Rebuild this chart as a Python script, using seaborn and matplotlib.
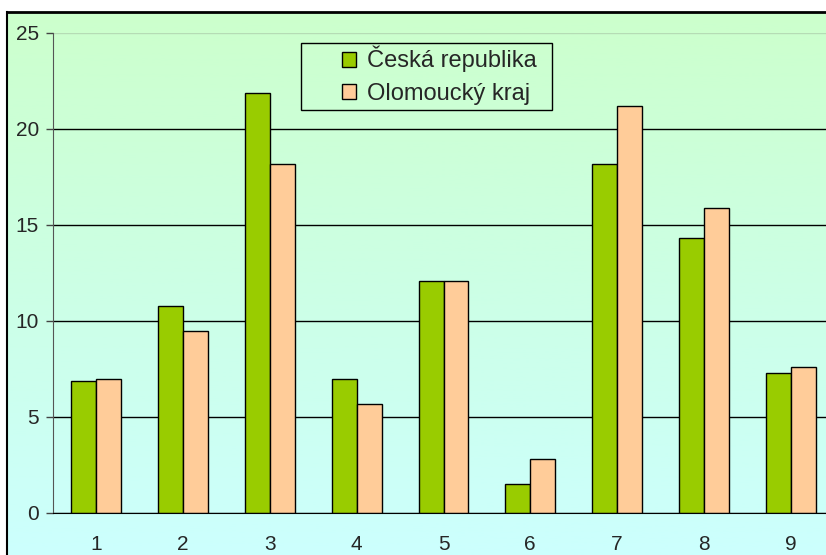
import numpy as np
import pandas as pd
import matplotlib
matplotlib.use("Agg")
import matplotlib.pyplot as plt
from matplotlib.patches import Rectangle
import seaborn as sns

categories = ["1", "2", "3", "4", "5", "6", "7", "8", "9"]
series_names = ["Česká republika", "Olomoucký kraj"]
cr_values = [6.9, 10.8, 21.9, 7.0, 12.1, 1.5, 18.2, 14.3, 7.3]
olk_values = [7.0, 9.5, 18.2, 5.7, 12.1, 2.8, 21.2, 15.9, 7.6]
y_ticks = [0, 5, 10, 15, 20, 25]

df = pd.DataFrame({
    "kategorie": categories * 2,
    "hodnota": cr_values + olk_values,
    "oblast": [series_names[0]] * len(categories) + [series_names[1]] * len(categories),
})

sns.set_style("white")
plt.rcParams["font.family"] = ["Liberation Sans", "DejaVu Sans"]

W, H = 826, 555
fig = plt.figure(figsize=(W / 100, H / 100), dpi=100)
fig.patch.set_facecolor("white")

# gradient background of the chart area (light green -> light cyan)
bg = fig.add_axes([7 / W, -0.02, 1.0, (H - 12) / H + 0.02])
grad = np.linspace(0, 1, 256).reshape(-1, 1)
top = np.array([204, 255, 204]) / 255
bottom = np.array([204, 255, 255]) / 255
img = top[None, None, :] * (1 - grad[:, :, None]) + bottom[None, None, :] * grad[:, :, None]
bg.imshow(img, aspect="auto", extent=[0, 1, 0, 1])
bg.set_xticks([])
bg.set_yticks([])
for side in ["right", "bottom"]:
    bg.spines[side].set_visible(False)
bg.spines["left"].set_color("black")
bg.spines["left"].set_linewidth(1.5)
bg.spines["top"].set_color("black")
bg.spines["top"].set_linewidth(2)

ax = fig.add_axes([53 / W, (H - 513) / H, (834 - 53) / W, (513 - 33) / H])
ax.set_facecolor("none")

sns.barplot(data=df, x="kategorie", y="hodnota", hue="oblast",
            palette=["#99CC00", "#FFCC99"], width=0.575, gap=0,
            edgecolor="black", linewidth=1, saturation=1, ax=ax)

ax.set_ylim(0, 25)
ax.set_xlim(-0.5, len(categories) - 0.5)
ax.set_yticks(y_ticks)
ax.set_yticklabels([str(t) for t in y_ticks], fontsize=15)
ax.set_xticks(range(len(categories)))
ax.set_xticklabels(categories, fontsize=15)
ax.set_xticks(np.arange(0.5, len(categories) - 0.5), minor=True)
ax.tick_params(axis="x", which="major", length=0, pad=16)
ax.tick_params(axis="x", which="minor", length=5, direction="out", color="#333333", width=1)
ax.tick_params(axis="y", length=5, direction="out", color="#444444", width=1, pad=5, left=True)
ax.set_xlabel("")
ax.set_ylabel("")

ax.set_axisbelow(True)
ax.yaxis.grid(True, color="black", linewidth=1)
for t, gl in zip(ax.get_yticks(), ax.get_ygridlines()):
    if t == 25:
        gl.set_color("#b5dcb5")

sns.despine(ax=ax, top=True, right=True)
ax.spines["left"].set_color("#555555")
ax.spines["bottom"].set_color("black")

# legend entries without frame, frame drawn separately (wide left padding like the original)
leg = ax.legend(loc="upper left", bbox_to_anchor=(342 / W, 1 - 46 / H),
                bbox_transform=fig.transFigure, borderaxespad=0, borderpad=0,
                fontsize=17, frameon=False, handlelength=0.6, handleheight=0.6,
                handletextpad=0.45, labelspacing=0.45)
for h in leg.legend_handles:
    h.set_edgecolor("black")
fig.patches.append(Rectangle((301 / W, 1 - 110 / H), (552 - 301) / W, (110 - 43) / H,
                             transform=fig.transFigure, fill=False,
                             edgecolor="black", linewidth=1))

fig.savefig("out.png", dpi=100)
